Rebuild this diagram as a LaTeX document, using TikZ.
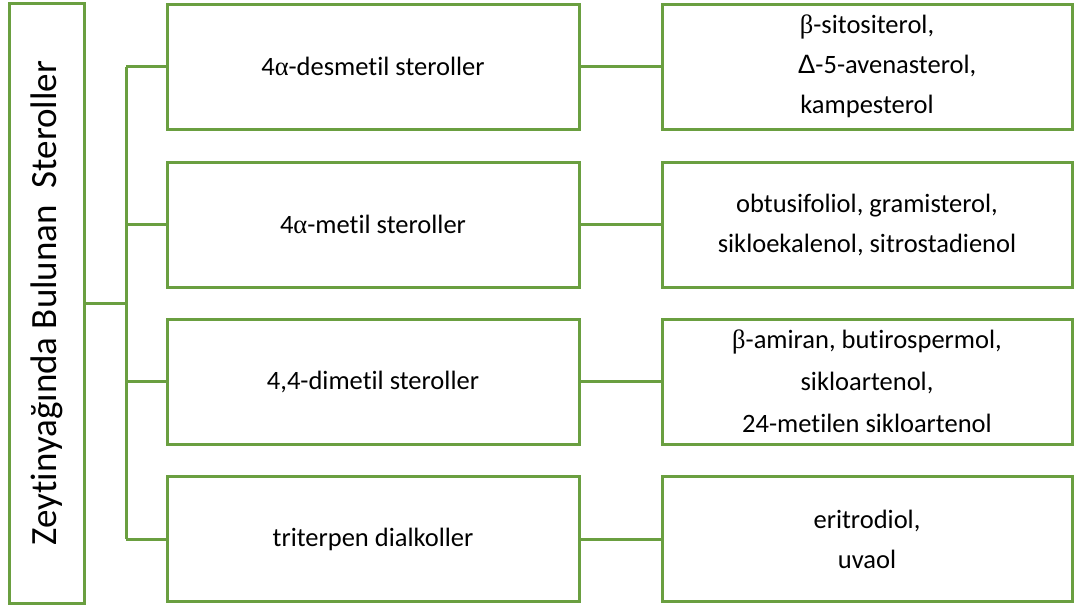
\documentclass[tikz,border=0pt]{standalone}
\usepackage{fontspec}
\setmainfont{Carlito}[Ligatures=NoCommon]
\newfontfamily\greekfont{Liberation Serif}
\newfontfamily\deltafont{Liberation Sans}
\definecolor{boxgreen}{HTML}{6A9F40}
\begin{document}
\begin{tikzpicture}[x=1pt,y=-1pt,
  frame/.style={draw=boxgreen,line width=3pt,fill=white,inner sep=0pt,align=center},
  rootbox/.style={frame,minimum width=75pt,minimum height=600pt},
  groupbox/.style={frame,minimum width=412pt,minimum height=125pt,
    font=\fontsize{26.5}{40}\selectfont},
  listbox/.style={frame,minimum width=410pt,minimum height=125pt,
    font=\fontsize{26.5}{42}\selectfont},
  link/.style={draw=boxgreen,line width=3pt}]
\useasboundingbox (0,0) rectangle (1074,608);

% root box with rotated title
\node[rootbox] (root) at (46.5,303) {};
\node[rotate=90,font=\fontsize{37}{40}\selectfont] (title) at (root.center)
  {Zeytinyağında Bulunan~ Steroller};

% sterol groups
\node[groupbox] (g1) at (373,66.5) {4{\greekfont α}-desmetil steroller};
\node[groupbox] (g2) at (373,224.5) {4{\greekfont α}-metil steroller};
\node[groupbox] (g3) at (373,381.5) {4,4-dimetil steroller};
\node[groupbox] (g4) at (373,539) {triterpen dialkoller};

% members of each group
\node[listbox,font=\fontsize{26.5}{40}\selectfont] (l1) at (867,66.5)
  {{\greekfont β}-sitositerol,\\ \hspace*{40pt}{\deltafont Δ}-5-avenasterol,\\ kampesterol};
\node[listbox,font=\fontsize{26.5}{40}\selectfont] (l2) at (867,224.5)
  {obtusifoliol, gramisterol,\\ sikloekalenol, sitrostadienol};
\node[listbox] (l3) at (867,381.5)
  {{\greekfont β}-amiran, butirospermol,\\ sikloartenol,\\ 24-metilen sikloartenol};
\node[listbox,font=\fontsize{26.5}{40}\selectfont] (l4) at (867,539)
  {eritrodiol,\\ uvaol};

% tree connectors
\coordinate (hub) at (126,303);
\coordinate (trunktop) at (g1.west -| hub);
\coordinate (trunkbot) at (g4.west -| hub);
\draw[link] (root.east) -- (hub);
\draw[link] (trunktop) -- (trunkbot);
\foreach \g in {g1,g2,g3,g4}{
  \draw[link] (\g.west -| hub) -- (\g.west);
}
\foreach \g/\l in {g1/l1,g2/l2,g3/l3,g4/l4}{
  \draw[link] (\g.east) -- (\l.west);
}
\end{tikzpicture}
\end{document}
